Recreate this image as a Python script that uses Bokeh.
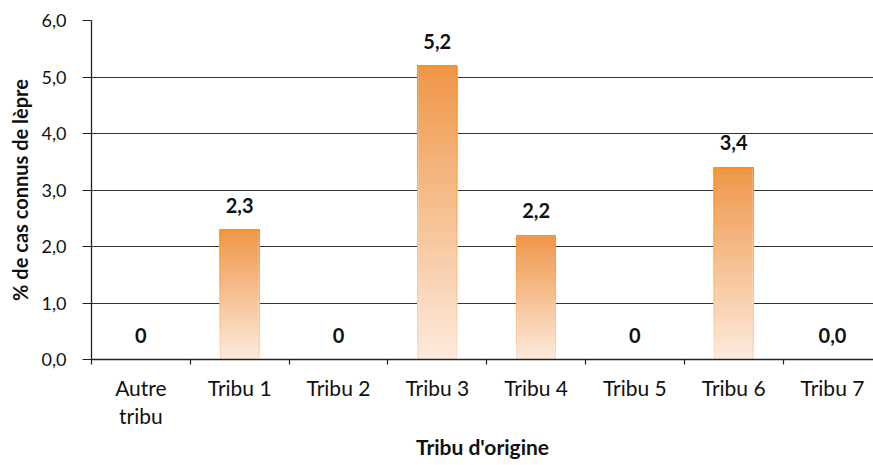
from bokeh.plotting import figure
from bokeh.models import Range1d, FixedTicker, ColumnDataSource, LabelSet
from bokeh.core.properties import value
from bokeh.embed import file_html
from bokeh.resources import INLINE

# ---- data ----
categories = ["Autre\ntribu", "Tribu 1", "Tribu 2", "Tribu 3",
              "Tribu 4", "Tribu 5", "Tribu 6", "Tribu 7"]
values = [0, 2.3, 0, 5.2, 2.2, 0, 3.4, 0.0]
value_labels = ["0", "2,3", "0", "5,2", "2,2", "0", "3,4", "0,0"]
y_ticks = [0, 1, 2, 3, 4, 5, 6]
y_tick_labels = ["0,0", "1,0", "2,0", "3,0", "4,0", "5,0", "6,0"]
x_title = "Tribu d'origine"
y_title = "% de cas connus de lèpre"

FONT = "Lato"
centers = [i + 0.5 for i in range(len(categories))]
bounds = [i for i in range(len(categories) + 1)]

p = figure(frame_width=782, frame_height=339, output_backend="svg", toolbar_location=None,
           x_range=Range1d(0, 7.915), y_range=Range1d(0, 6))
p.min_border_left = 91
p.min_border_top = 20
p.min_border_right = 0
p.min_border_bottom = 106
p.outline_line_color = None
p.background_fill_color = "white"
p.border_fill_color = "white"

# grid
p.xgrid.visible = False
p.ygrid.ticker = FixedTicker(ticks=y_ticks)
p.ygrid.grid_line_color = "#333333"
p.ygrid.grid_line_width = 1.2

# gradient bars
def interp(c1, c2, t):
    a = [int(c1[i:i + 2], 16) for i in (1, 3, 5)]
    b = [int(c2[i:i + 2], 16) for i in (1, 3, 5)]
    return "#%02x%02x%02x" % tuple(round(a[k] + (b[k] - a[k]) * t) for k in range(3))

bottom_fill, top_fill = "#fdebdd", "#ef9648"
bottom_edge, top_edge = "#fcdcc6", "#f7901e"
N = 60
bw = 0.4
edge_w = 0.014
cap = 0.028
ox, ob, ot, oc = [], [], [], []
ix, ib, it, ic = [], [], [], []
for c, v in zip(centers, values):
    if v <= 0:
        continue
    for k in range(N):
        t = (k + 0.5) / N
        ox.append(c); ob.append(v * k / N); ot.append(v); oc.append(interp(bottom_edge, top_edge, t))
        ix.append(c); ib.append(v * k / N); it.append(v - cap); ic.append(interp(bottom_fill, top_fill, t))
p.vbar(x=ox, bottom=ob, top=ot, width=bw, fill_color=oc, line_color=None)
p.vbar(x=ix, bottom=ib, top=it, width=bw - 2 * edge_w, fill_color=ic, line_color=None)

# value labels
src = ColumnDataSource(dict(x=centers, y=values, t=value_labels))
labels = LabelSet(x="x", y="y", text="t", source=src, y_offset=17,
                  text_align="center", text_baseline="alphabetic",
                  text_font=value(FONT), text_font_style="bold", text_font_size="20px",
                  text_color="#111111")
p.add_layout(labels)

# x axis
xa = p.xaxis[0]
xa.ticker = FixedTicker(ticks=centers, minor_ticks=bounds)
xa.major_label_overrides = {c: lab for c, lab in zip(centers, categories)}
xa.major_tick_out = 0
xa.major_tick_in = 0
xa.minor_tick_out = 5
xa.minor_tick_in = 0
xa.minor_tick_line_color = "#222222"
xa.minor_tick_line_width = 1.2
xa.axis_line_color = "#222222"
xa.axis_line_width = 1.3
xa.major_label_standoff = 10
xa.major_label_text_font = FONT
xa.major_label_text_font_size = "21px"
xa.major_label_text_color = "#111111"
xa.major_label_text_line_height = 1.12
xa.axis_label = x_title
xa.axis_label_text_font = FONT
xa.axis_label_text_font_style = "bold"
xa.axis_label_text_font_size = "21px"
xa.axis_label_text_color = "#111111"
xa.axis_label_standoff = 3

# y axis
ya = p.yaxis[0]
ya.ticker = FixedTicker(ticks=y_ticks, minor_ticks=[])
ya.major_label_overrides = {v: lab for v, lab in zip(y_ticks, y_tick_labels)}
ya.major_tick_out = 9
ya.major_tick_in = 0
ya.major_tick_line_color = "#222222"
ya.major_tick_line_width = 1.2
ya.minor_tick_out = 0
ya.minor_tick_in = 0
ya.axis_line_color = "#222222"
ya.axis_line_width = 1.3
ya.major_label_standoff = 16
ya.major_label_text_font = FONT
ya.major_label_text_font_size = "18px"
ya.major_label_text_color = "#111111"
ya.axis_label = y_title
ya.axis_label_text_font = FONT
ya.axis_label_text_font_style = "bold"
ya.axis_label_text_font_size = "20px"
ya.axis_label_text_color = "#111111"
ya.axis_label_standoff = 7

open("out.html", "w").write(file_html(p, INLINE))
